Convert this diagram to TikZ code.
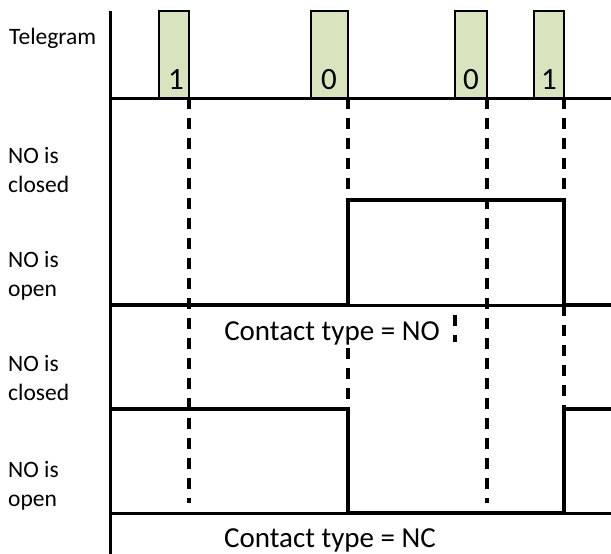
\documentclass[tikz,border=0pt]{standalone}
\usepackage{fontspec}
\setmainfont{Carlito}
\usepackage{xcolor}
\usetikzlibrary{positioning, calc}
\definecolor{pulsegreen}{RGB}{215,228,189}

\begin{document}
\begin{tikzpicture}[x=1pt, y=-1pt]
    \tikzstyle{label} = [font=\fontsize{23.5}{29}\selectfont, align=left, anchor=base west, inner sep=0pt]
    \tikzstyle{bit} = [font=\fontsize{31}{32}\selectfont, anchor=base, inner sep=0pt]
    \tikzstyle{caption} = [font=\fontsize{29}{32}\selectfont, anchor=base, inner sep=0pt]
    \tikzstyle{pulse} = [rectangle, draw, fill=pulsegreen, line width=2.5pt, outer sep=0pt, minimum width=30pt, minimum height=87pt, anchor=south east]
    \tikzstyle{axis} = [draw, line width=3pt]
    \tikzstyle{signal} = [draw, line width=4.5pt]
    \tikzstyle{marker} = [draw, line width=3.3pt, dash pattern=on 11pt off 9pt]

    \useasboundingbox (0,0) rectangle (611,554);

    % telegram pulses
    \node [pulse] (bitA) at (189,98) {};
    \node [pulse, minimum width=37pt] (bitB) at (348,98) {};
    \node [pulse, minimum width=32pt] (bitC) at (487,98) {};
    \node [pulse] (bitD) at (564,98) {};
    \node [bit] (valA) at (176,89) {1};
    \node [bit] (valB) at (329,89) {0};
    \node [bit] (valC) at (471,89) {0};
    \node [bit] (valD) at (549,89) {1};

    % time marks
    \path [marker] (bitA.south east) -- ++(0,405);
    \path [marker] (bitC.south east) -- ++(0,405);
    \path [marker] (bitB.south east) -- ++(0,102);
    \path [marker] ($(bitB.south east)+(0,250)$) -- ++(0,61);
    \path [marker] (bitD.south east) -- ++(0,102);
    \path [marker] ($(bitD.south east)+(0,207)$) -- ++(0,104);
    \path [marker] (455,315) -- (455,342);

    % axes
    \path [axis] (110,11) -- (110,554);
    \path [axis] (110,98) -- (611,98);
    \path [axis] (110,305) -- (611,305);
    \path [axis] (110,513) -- (611,513);

    % contact states
    \path [signal] (110,305) -| (348,200) -| (564,305) -- (611,305);
    \path [signal] (110,409) -| (348,513) -| (564,409) -- (611,409);

    \node [label] (telegram) at (9,45) {Telegram};
    \node [label] (closedNO) at (8,192) {NO is\\closed};
    \node [label] (openNO) at (8,296) {NO is\\open};
    \node [label] (closedNC) at (8,400) {NO is\\closed};
    \node [label] (openNC) at (8,506) {NO is\\open};
    \node [caption] (typeNO) at (332,340) {Contact type = NO};
    \node [caption] (typeNC) at (330,547) {Contact type = NC};
\end{tikzpicture}
\end{document}
